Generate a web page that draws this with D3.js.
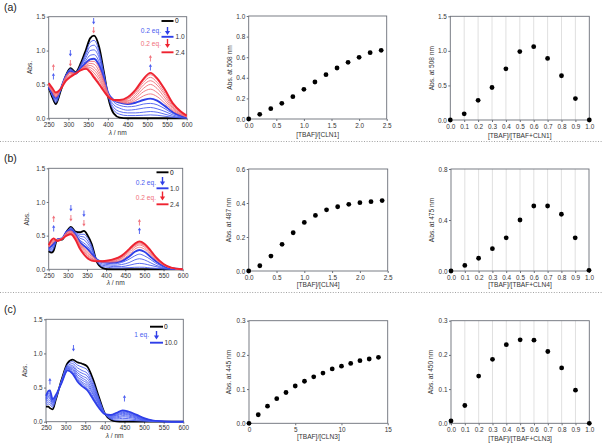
<!DOCTYPE html>
<html><head><meta charset="utf-8">
<script src="https://cdn.jsdelivr.net/npm/d3@7"></script>
<style>body{margin:0;background:#fff}svg{display:block;font-family:"Liberation Sans",Arial,sans-serif}</style>
</head><body><svg id="c" width="603" height="445"></svg>
<script>
// ---------- DATA ----------
const eqA = [0,0.2,0.4,0.6,0.8,1.0,1.2,1.4,1.6,1.8,2.0,2.2,2.4];
const wlA = [250,260,268,280,293,305,318,332,345,355,365,378,390,402,415,430,450,470,490,508,525,545,565,585,600];
// absorbance per wavelength (rows) for each equivalent (columns)
const absA = [
[0.46,0.46,0.46,0.46,0.46,0.46,0.47,0.48,0.49,0.50,0.51,0.51,0.52],
[0.30,0.32,0.33,0.34,0.36,0.37,0.38,0.39,0.40,0.41,0.42,0.43,0.44],
[0.21,0.23,0.25,0.27,0.28,0.30,0.31,0.32,0.33,0.35,0.36,0.37,0.38],
[0.40,0.41,0.42,0.42,0.43,0.43,0.43,0.43,0.43,0.43,0.43,0.43,0.43],
[0.62,0.62,0.62,0.62,0.62,0.62,0.61,0.60,0.59,0.58,0.57,0.56,0.55],
[0.74,0.73,0.72,0.71,0.70,0.69,0.68,0.67,0.66,0.64,0.63,0.62,0.61],
[0.68,0.68,0.67,0.67,0.67,0.66,0.66,0.66,0.66,0.66,0.66,0.66,0.66],
[0.82,0.80,0.78,0.77,0.75,0.74,0.73,0.73,0.72,0.72,0.71,0.71,0.71],
[1.02,0.98,0.94,0.90,0.86,0.82,0.80,0.78,0.77,0.76,0.75,0.74,0.73],
[1.18,1.12,1.06,1.00,0.93,0.87,0.84,0.81,0.78,0.75,0.72,0.70,0.68],
[1.22,1.15,1.08,1.01,0.94,0.88,0.84,0.80,0.75,0.71,0.67,0.63,0.60],
[1.05,0.99,0.94,0.89,0.83,0.78,0.74,0.69,0.65,0.61,0.57,0.53,0.50],
[0.68,0.66,0.64,0.62,0.60,0.58,0.55,0.52,0.49,0.46,0.44,0.42,0.40],
[0.28,0.30,0.32,0.33,0.35,0.36,0.35,0.34,0.33,0.33,0.32,0.32,0.31],
[0.07,0.12,0.16,0.20,0.24,0.27,0.27,0.27,0.27,0.27,0.27,0.27,0.27],
[0.01,0.06,0.10,0.15,0.19,0.23,0.24,0.25,0.25,0.26,0.26,0.27,0.27],
[0.00,0.04,0.08,0.12,0.17,0.21,0.22,0.23,0.25,0.26,0.28,0.29,0.31],
[0.00,0.04,0.08,0.13,0.18,0.23,0.26,0.29,0.32,0.35,0.38,0.40,0.42],
[0.00,0.045,0.09,0.15,0.21,0.27,0.33,0.39,0.44,0.49,0.53,0.56,0.58],
[0.00,0.05,0.10,0.16,0.22,0.29,0.36,0.43,0.50,0.555,0.605,0.645,0.67],
[0.00,0.045,0.09,0.14,0.20,0.26,0.32,0.38,0.44,0.49,0.53,0.57,0.59],
[0.00,0.03,0.06,0.10,0.14,0.18,0.22,0.26,0.30,0.34,0.37,0.40,0.42],
[0.00,0.015,0.03,0.05,0.07,0.09,0.11,0.13,0.15,0.17,0.19,0.21,0.22],
[0.00,0.005,0.01,0.02,0.03,0.04,0.05,0.06,0.07,0.08,0.09,0.09,0.10],
[0.00,0.00,0.005,0.01,0.01,0.015,0.02,0.02,0.025,0.03,0.03,0.035,0.04]
];

const eqB = [0,0.2,0.4,0.6,0.8,1.0,1.2,1.4,1.6,1.8,2.0,2.2,2.4];
const wlB = [250,258,263,272,285,297,308,320,332,342,352,362,375,390,405,420,440,460,475,487,500,515,530,550,570,600];
const absB = [
[0.27,0.28,0.29,0.30,0.31,0.32,0.33,0.34,0.34,0.35,0.35,0.36,0.36],
[0.25,0.27,0.29,0.31,0.33,0.35,0.37,0.38,0.40,0.41,0.42,0.43,0.44],
[0.28,0.31,0.33,0.35,0.37,0.39,0.40,0.42,0.43,0.44,0.45,0.46,0.46],
[0.44,0.44,0.44,0.44,0.44,0.44,0.44,0.43,0.43,0.43,0.42,0.42,0.42],
[0.44,0.45,0.45,0.46,0.46,0.46,0.46,0.46,0.46,0.45,0.45,0.45,0.45],
[0.56,0.56,0.56,0.56,0.56,0.56,0.55,0.54,0.53,0.52,0.51,0.51,0.50],
[0.63,0.62,0.61,0.60,0.59,0.58,0.57,0.56,0.55,0.54,0.53,0.53,0.52],
[0.56,0.55,0.54,0.53,0.52,0.51,0.50,0.49,0.48,0.47,0.46,0.45,0.44],
[0.55,0.52,0.49,0.46,0.43,0.40,0.38,0.36,0.35,0.33,0.32,0.31,0.30],
[0.57,0.52,0.48,0.44,0.39,0.35,0.32,0.30,0.28,0.26,0.24,0.23,0.22],
[0.50,0.46,0.42,0.38,0.34,0.30,0.27,0.24,0.22,0.20,0.18,0.17,0.16],
[0.38,0.35,0.32,0.29,0.26,0.23,0.21,0.19,0.17,0.16,0.15,0.14,0.13],
[0.12,0.13,0.13,0.14,0.14,0.15,0.14,0.14,0.13,0.13,0.13,0.12,0.12],
[0.02,0.04,0.06,0.08,0.10,0.11,0.11,0.11,0.12,0.12,0.12,0.12,0.12],
[0.00,0.03,0.05,0.07,0.09,0.10,0.11,0.11,0.12,0.12,0.12,0.13,0.13],
[0.00,0.02,0.04,0.06,0.08,0.10,0.11,0.12,0.13,0.14,0.14,0.15,0.15],
[0.00,0.02,0.04,0.07,0.10,0.12,0.14,0.16,0.17,0.18,0.19,0.20,0.20],
[0.00,0.025,0.06,0.10,0.15,0.19,0.22,0.25,0.27,0.28,0.29,0.30,0.30],
[0.00,0.03,0.08,0.14,0.20,0.26,0.30,0.33,0.35,0.36,0.37,0.38,0.38],
[0.00,0.031,0.088,0.157,0.225,0.286,0.327,0.36,0.378,0.392,0.402,0.408,0.414],
[0.00,0.03,0.08,0.14,0.20,0.26,0.30,0.33,0.35,0.36,0.37,0.38,0.38],
[0.00,0.02,0.06,0.10,0.15,0.19,0.22,0.24,0.26,0.27,0.28,0.28,0.29],
[0.00,0.015,0.04,0.06,0.09,0.12,0.14,0.15,0.16,0.17,0.17,0.18,0.18],
[0.00,0.005,0.015,0.025,0.035,0.05,0.06,0.065,0.07,0.07,0.075,0.08,0.08],
[0.00,0.00,0.005,0.01,0.01,0.015,0.02,0.02,0.02,0.02,0.025,0.025,0.025],
[0,0,0,0,0,0,0,0,0,0,0,0,0]
];

const eqC = [0,1,2,3,4,5,6,7,8,9,10];
const wlC = [250,256,260,267,275,290,305,318,330,342,355,370,385,400,415,430,445,460,480,500,520,540,570,600];
const absC = [
[0.22,0.24,0.26,0.28,0.30,0.32,0.33,0.34,0.35,0.37,0.38],
[0.22,0.26,0.29,0.32,0.35,0.37,0.39,0.41,0.42,0.44,0.45],
[0.20,0.25,0.28,0.31,0.34,0.36,0.38,0.40,0.42,0.44,0.46],
[0.18,0.21,0.23,0.25,0.27,0.28,0.29,0.30,0.31,0.32,0.33],
[0.32,0.33,0.34,0.35,0.36,0.36,0.37,0.37,0.38,0.38,0.39],
[0.62,0.61,0.61,0.60,0.60,0.59,0.59,0.58,0.58,0.57,0.57],
[0.86,0.84,0.82,0.81,0.80,0.79,0.78,0.77,0.76,0.75,0.75],
[0.91,0.88,0.85,0.82,0.80,0.78,0.76,0.74,0.72,0.71,0.70],
[0.87,0.83,0.79,0.75,0.72,0.69,0.66,0.64,0.62,0.60,0.59],
[0.85,0.80,0.75,0.71,0.67,0.64,0.61,0.58,0.56,0.54,0.52],
[0.81,0.76,0.71,0.67,0.63,0.59,0.56,0.53,0.50,0.48,0.46],
[0.62,0.58,0.54,0.51,0.48,0.45,0.42,0.40,0.37,0.35,0.33],
[0.36,0.34,0.32,0.30,0.28,0.27,0.25,0.24,0.22,0.21,0.20],
[0.12,0.12,0.12,0.12,0.12,0.12,0.12,0.12,0.11,0.11,0.11],
[0.03,0.04,0.05,0.06,0.07,0.08,0.085,0.09,0.095,0.10,0.10],
[0.005,0.02,0.04,0.055,0.07,0.085,0.095,0.105,0.115,0.125,0.13],
[0.00,0.025,0.05,0.072,0.09,0.109,0.123,0.136,0.147,0.159,0.167],
[0.00,0.022,0.045,0.065,0.082,0.098,0.11,0.122,0.132,0.142,0.15],
[0.00,0.015,0.03,0.045,0.056,0.067,0.076,0.084,0.091,0.098,0.104],
[0.00,0.008,0.015,0.022,0.028,0.034,0.039,0.043,0.047,0.05,0.053],
[0.00,0.003,0.006,0.009,0.011,0.013,0.015,0.017,0.019,0.02,0.021],
[0.00,0.00,0.002,0.003,0.004,0.005,0.005,0.006,0.006,0.007,0.007],
[0,0,0,0,0,0,0,0,0,0,0],
[0,0,0,0,0,0,0,0,0,0,0]
];

// titration plots
const titAx = [0,0.2,0.4,0.6,0.8,1.0,1.2,1.4,1.6,1.8,2.0,2.2,2.4];
const titAy = [0,0.045,0.10,0.152,0.217,0.288,0.359,0.43,0.495,0.55,0.599,0.644,0.667];
const titBx = [0,0.2,0.4,0.6,0.8,1.0,1.2,1.4,1.6,1.8,2.0,2.2,2.4];
const titBy = [0,0.031,0.088,0.157,0.225,0.286,0.327,0.36,0.378,0.392,0.402,0.408,0.414];
const titCx = [0,1,2,3,4,5,6,7,8,9,10,11,12,13,14];
const titCy = [0,0.025,0.05,0.072,0.09,0.109,0.123,0.136,0.147,0.159,0.167,0.175,0.183,0.188,0.193];
// Job plots
const jobX = [0,0.1,0.2,0.3,0.4,0.5,0.6,0.7,0.8,0.9,1.0];
const jobA = [0,0.09,0.285,0.47,0.74,0.99,1.06,0.89,0.64,0.31,0];
const jobB = [0,0.044,0.10,0.175,0.26,0.40,0.51,0.51,0.445,0.26,0.005];
const jobC = [0.007,0.052,0.138,0.187,0.23,0.244,0.243,0.21,0.162,0.097,0];

// tick values
const specXTicks = [250,300,350,400,450,500,550,600];
const specYTicks = [0,0.5,1.0,1.5];
const titAxTicks = [0,0.5,1.0,1.5,2.0,2.5], titAyTicks = [0,0.2,0.4,0.6,0.8,1.0];
const titByTicks = [0,0.2,0.4,0.6];
const titCxTicks = [0,5,10,15], titCyTicks = [0,0.1,0.2,0.3];
const jobXTicks = [0,0.1,0.2,0.3,0.4,0.5,0.6,0.7,0.8,0.9,1.0];
const jobAyTicks = [0,0.5,1.0,1.5], jobByTicks = [0,0.4,0.8], jobCyTicks = [0,0.1,0.2,0.3];

// ---------- DRAW ----------
const svg = d3.select("#c");
const AX = "#6b6f78", TXT = "#333";
const BLUE = "#2f3fe8", BLUE_T = "#4a5cf0", RED = "#ee2330", RED_T = "#f0707a";
const f1 = d3.format(".1f");
const TICKFS = 6.4, LABFS = 6.6;

function panel(fr, xDom, yDom, xt, yt, xf, yf, grid) {
  const x = d3.scaleLinear().domain(xDom).range([fr.l, fr.r]);
  const y = d3.scaleLinear().domain(yDom).range([fr.b, fr.t]);
  const g = svg.append("g");
  if (grid) {
    g.selectAll("line.g").data(xt.slice(1, -1)).join("line")
      .attr("x1", d => x(d)).attr("x2", d => x(d)).attr("y1", fr.t).attr("y2", fr.b)
      .attr("stroke", "#d8d8d8").attr("stroke-width", 0.8);
  }
  g.append("rect").attr("x", fr.l).attr("y", fr.t).attr("width", fr.r - fr.l).attr("height", fr.b - fr.t)
    .attr("fill", "none").attr("stroke", AX).attr("stroke-width", 0.9);
  const xa = g.append("g").attr("transform", `translate(0,${fr.b})`)
    .call(d3.axisBottom(x).tickValues(xt).tickFormat(xf).tickSize(2).tickPadding(2));
  const ya = g.append("g").attr("transform", `translate(${fr.l},0)`)
    .call(d3.axisLeft(y).tickValues(yt).tickFormat(yf).tickSize(2).tickPadding(1.5));
  [xa, ya].forEach(a => {
    a.select(".domain").remove();
    a.selectAll(".tick line").attr("stroke", AX);
    a.selectAll(".tick text").attr("fill", TXT).attr("font-size", TICKFS).attr("font-family", "Liberation Sans, Arial, sans-serif");
  });
  return { x, y, g };
}

function ylabel(text, xp, fr) {
  svg.append("text").attr("transform", `translate(${xp},${(fr.t + fr.b) / 2}) rotate(-90)`)
    .attr("text-anchor", "middle").attr("font-size", LABFS).attr("fill", TXT).text(text);
}
function xlabel(text, yp, fr, italicLambda) {
  const t = svg.append("text").attr("x", (fr.l + fr.r) / 2).attr("y", yp)
    .attr("text-anchor", "middle").attr("font-size", LABFS).attr("fill", TXT);
  if (italicLambda) {
    t.append("tspan").attr("font-style", "italic").text("λ");
    t.append("tspan").text(" / nm");
  } else t.text(text);
}
function arrow(x, y1, y2, color, sw, hw, hl) {
  const dir = y2 > y1 ? 1 : -1;
  svg.append("line").attr("x1", x).attr("x2", x).attr("y1", y1).attr("y2", y2 - dir * hl * 0.8)
    .attr("stroke", color).attr("stroke-width", sw);
  svg.append("path").attr("d", `M${x - hw},${y2 - dir * hl}L${x + hw},${y2 - dir * hl}L${x},${y2}Z`).attr("fill", color);
}
function spectra(P, wl, abs, eqs, styleFn) {
  const line = d3.line().x(d => P.x(d[0])).y(d => P.y(d[1])).curve(d3.curveMonotoneX);
  const series = eqs.map((e, i) => ({ e, i, pts: wl.map((w, j) => [w, abs[j][i]]) }));
  const order = styleFn.order(series);
  P.g.append("g").selectAll("path").data(order).join("path")
    .attr("d", s => line(s.pts)).attr("fill", "none")
    .attr("stroke", s => styleFn.color(s)).attr("stroke-width", s => styleFn.width(s))
    .attr("stroke-linejoin", "round");
}
function dots(P, xs, ys) {
  P.g.append("g").selectAll("circle").data(xs.map((d, i) => [d, ys[i]])).join("circle")
    .attr("cx", d => P.x(d[0])).attr("cy", d => P.y(d[1])).attr("r", 2.4).attr("fill", "#000");
}

// frames
const frA1 = { l: 48.7, r: 186.7, t: 16.7, b: 118.3 }, frA2 = { l: 248.7, r: 386.7, t: 16, b: 119 }, frA3 = { l: 450.3, r: 589.3, t: 16.3, b: 120 };
const frB1 = { l: 48.7, r: 182.7, t: 168.3, b: 269.3 }, frB2 = { l: 248.7, r: 387.7, t: 169, b: 271 }, frB3 = { l: 451, r: 589, t: 169, b: 271 };
const frC1 = { l: 46, r: 183.3, t: 319.3, b: 421.7 }, frC2 = { l: 249, r: 387.7, t: 320.7, b: 423.3 }, frC3 = { l: 451, r: 589.3, t: 320.7, b: 423.3 };

// separators
[141.5, 292.5].forEach(yy => svg.append("line").attr("x1", 0).attr("x2", 603).attr("y1", yy).attr("y2", yy)
  .attr("stroke", "#8a8a8a").attr("stroke-width", 0.8).attr("stroke-dasharray", "1,1.6"));

// panel letters
[["(a)", 11], ["(b)", 162], ["(c)", 313]].forEach(([t, yy]) =>
  svg.append("text").attr("x", 4).attr("y", yy).attr("font-size", 10.5).attr("fill", "#222").text(t));

function twoStage(nBlue, nAll) {
  return {
    order: s => { const a = s.slice(); const first = a[0], mid = a[nBlue], last = a[a.length - 1];
      const thinB = a.slice(1, nBlue), thinR = a.slice(nBlue + 1, a.length - 1);
      return [first, ...thinB, mid, ...thinR, last]; },
    color: s => s.i === 0 ? "#000" : (s.i <= nBlue ? (s.i === nBlue ? BLUE : BLUE_T) : (s.i === nAll - 1 ? RED : RED_T)),
    width: s => (s.i === 0 || s.i === nBlue || s.i === nAll - 1) ? 1.9 : 0.9
  };
}

// ----- Row (a) -----
const A1 = panel(frA1, [250, 600], [0, 1.5], specXTicks, specYTicks, d3.format("d"), f1);
spectra(A1, wlA, absA, eqA, twoStage(5, eqA.length));
ylabel("Abs.", 31.5, frA1); xlabel("", 134.5, frA1, true);
const A2 = panel(frA2, [0, 2.5], [0, 1.0], titAxTicks, titAyTicks, f1, f1);
dots(A2, titAx, titAy); ylabel("Abs. at 508 nm", 231.5, frA2); xlabel("[TBAF]/[CLN1]", 137, frA2);
const A3 = panel(frA3, [0, 1.0], [0, 1.5], jobXTicks, jobAyTicks, f1, f1, true);
dots(A3, jobX, jobA); ylabel("Abs. at 508 nm", 433.5, frA3); xlabel("[TBAF]/[TBAF+CLN1]", 137.5, frA3);

// ----- Row (b) -----
const B1 = panel(frB1, [250, 600], [0, 1.5], specXTicks, specYTicks, d3.format("d"), f1);
spectra(B1, wlB, absB, eqB, twoStage(5, eqB.length));
ylabel("Abs.", 28.5, frB1); xlabel("", 285, frB1, true);
const B2 = panel(frB2, [0, 2.5], [0, 0.6], titAxTicks, titByTicks, f1, f1);
dots(B2, titBx, titBy); ylabel("Abs. at 487 nm", 231, frB2); xlabel("[TBAF]/[CLN4]", 286.5, frB2);
const B3 = panel(frB3, [0, 1.0], [0, 0.8], jobXTicks, jobByTicks, f1, f1, true);
dots(B3, jobX, jobB); ylabel("Abs. at 475 nm", 433.5, frB3); xlabel("[TBAF]/[TBAF+CLN4]", 286.5, frB3);

// ----- Row (c) -----
const C1 = panel(frC1, [250, 600], [0, 1.5], specXTicks, specYTicks, d3.format("d"), f1);
spectra(C1, wlC, absC, eqC, {
  order: s => [s[0], ...s.slice(1, -1), s[s.length - 1]],
  color: s => s.i === 0 ? "#000" : (s.i === eqC.length - 1 ? BLUE : BLUE_T),
  width: s => (s.i === 0 || s.i === eqC.length - 1) ? 1.7 : 0.9
});
ylabel("Abs.", 27, frC1); xlabel("", 437.5, frC1, true);
const C2 = panel(frC2, [0, 15], [0, 0.3], titCxTicks, titCyTicks, d3.format("d"), f1);
dots(C2, titCx, titCy); ylabel("Abs. at 445 nm", 231, frC2); xlabel("[TBAF]/[CLN3]", 439, frC2);
const C3 = panel(frC3, [0, 1.0], [0, 0.3], jobXTicks, jobCyTicks, f1, f1, true);
dots(C3, jobX, jobC); ylabel("Abs. at 450 nm", 433, frC3); xlabel("[TBAF]/[TBAF+CLN3]", 440.5, frC3);

// ----- spectral annotations (arrows) -----
function smallUp(P, w, top, color) { arrow(P.x(w), top + 6.5, top, color, 0.9, 1.6, 2.8); }
function smallDown(P, w, top, color) { arrow(P.x(w), top, top + 6.5, color, 0.9, 1.6, 2.8); }
// (a)
smallUp(A1, 262, 64, RED_T); smallUp(A1, 262, 73, BLUE_T);
smallDown(A1, 305, 50, BLUE_T); smallDown(A1, 305, 60, RED_T);
smallDown(A1, 364, 18, BLUE_T); smallDown(A1, 364, 27, RED_T);
smallUp(A1, 508, 55, RED_T); smallUp(A1, 508, 64, BLUE_T);
// (b)
smallUp(B1, 263, 215.5, RED_T); smallUp(B1, 263, 225, BLUE_T);
smallDown(B1, 308, 205, BLUE_T); smallDown(B1, 308, 215, RED_T);
smallDown(B1, 342, 210.5, BLUE_T); smallDown(B1, 342, 220, RED_T);
smallUp(B1, 487, 219, RED_T); smallUp(B1, 487, 227.5, BLUE_T);
// (c)
smallDown(C1, 320, 345, BLUE_T);
smallUp(C1, 260, 378, BLUE_T);
smallUp(C1, 450, 395, BLUE_T);

// ----- legends -----
function legLine(x1, x2, y, color) {
  svg.append("line").attr("x1", x1).attr("x2", x2).attr("y1", y).attr("y2", y).attr("stroke", color).attr("stroke-width", 1.9);
}
function legText(x, y, t, color, anchor) {
  svg.append("text").attr("x", x).attr("y", y + 2.3).attr("font-size", 6.6).attr("fill", color)
    .attr("text-anchor", anchor || "start").text(t);
}
// (a)
legLine(161.5, 173.5, 21, "#000"); legText(175, 21, "0", "#000");
arrow(167.5, 27, 35, BLUE, 1.4, 2.6, 4); legText(161, 31, "0.2 eq.", BLUE_T, "end");
legLine(161.5, 173.5, 36.8, BLUE); legText(175.5, 36.8, "1.0", "#333");
arrow(167.5, 39, 48, RED, 1.4, 2.6, 4); legText(161, 43.5, "0.2 eq.", RED_T, "end");
legLine(161.5, 173.5, 52.3, RED); legText(175.5, 52.3, "2.4", "#333");
// (b)
legLine(156.5, 168.5, 172.3, "#000"); legText(170, 172.3, "0", "#000");
arrow(162.5, 177, 185.5, BLUE, 1.4, 2.6, 4); legText(156, 182.5, "0.2 eq.", BLUE_T, "end");
legLine(156.5, 168.5, 188.3, BLUE); legText(170, 188.3, "1.0", "#333");
arrow(162.5, 191.5, 200.5, RED, 1.4, 2.6, 4); legText(156, 197.5, "0.2 eq.", RED_T, "end");
legLine(156.5, 168.5, 204.3, RED); legText(170, 204.3, "2.4", "#333");
// (c)
legLine(150, 163, 326.7, "#000"); legText(164, 326.7, "0", "#000");
arrow(156.5, 331, 339.5, BLUE, 1.4, 2.6, 4); legText(149, 335, "1 eq.", BLUE_T, "end");
legLine(150, 163, 342.7, BLUE); legText(164.5, 342.7, "10.0", "#333");
</script></body></html>
